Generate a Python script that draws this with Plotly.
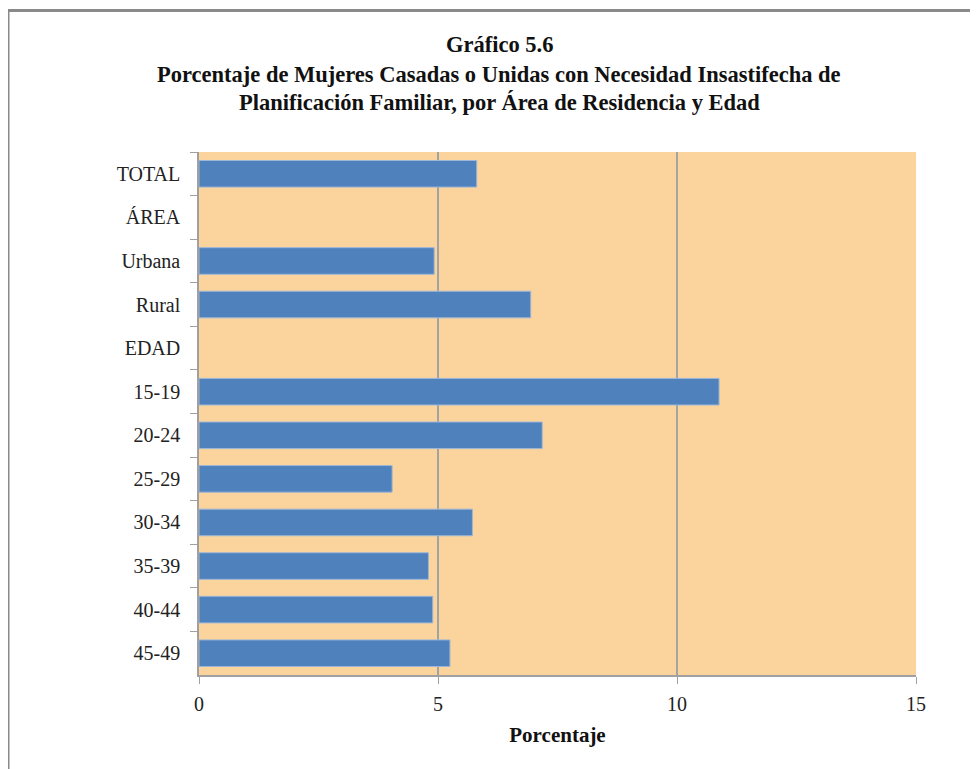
import plotly.graph_objects as go

categories = ["TOTAL", "ÁREA", "Urbana", "Rural", "EDAD", "15-19", "20-24",
              "25-29", "30-34", "35-39", "40-44", "45-49"]
values = [5.81, None, 4.92, 6.94, None, 10.88, 7.18, 4.04, 5.72, 4.80, 4.89, 5.25]
x_ticks = [0, 5, 10, 15]

title_lines = ["Gráfico 5.6",
               "Porcentaje de Mujeres Casadas o Unidas con Necesidad Insastifecha de",
               "Planificación Familiar, por Área de Residencia y Edad"]
x_title = "Porcentaje"

FONT = "Liberation Serif"
OFF = 8  # page body offset

fig = go.Figure()
fig.add_trace(go.Bar(
    y=categories, x=values, orientation="h",
    marker=dict(color="#4F81BD", line=dict(color="#9DB6D8", width=1)),
    showlegend=False,
))

W, H = 978 - OFF, 769 - OFF
L, T = 199 - OFF, 152 - OFF
R = W - (916 - OFF)
B = H - (675 - OFF)
pw, ph = W - L - R, H - T - B

def px_x(px):
    return (px - OFF - L) / pw

def px_y(py):
    return (H - B - (py - OFF)) / ph

fig.update_layout(
    width=W, height=H,
    margin=dict(l=L, r=R, t=T, b=B, autoexpand=False),
    paper_bgcolor="white",
    plot_bgcolor="#FAD49C",
    bargap=0.39,
    font=dict(family=FONT, size=20, color="#222222"),
    xaxis=dict(
        range=[0, 15], tickvals=x_ticks, ticktext=[str(v) for v in x_ticks],
        showgrid=True, gridcolor="#A3A3A3", gridwidth=1.5,
        showline=True, linecolor="#A0A0A0", linewidth=1.5,
        ticks="outside", ticklen=7, tickcolor="#A0A0A0", tickwidth=1,
        ticklabelstandoff=3,
        tickfont=dict(family=FONT, size=20, color="#222222"),
        zeroline=False, fixedrange=True,
        title=dict(text="<b>" + x_title + "</b>", font=dict(family=FONT, size=21, color="#111111"), standoff=14),
    ),
    yaxis=dict(
        type="category", categoryorder="array", categoryarray=categories,
        autorange="reversed",
        showgrid=False, showline=True, linecolor="#A0A0A0", linewidth=1.5,
        ticks="outside", ticklen=7, tickcolor="#A0A0A0", tickwidth=1,
        tickson="boundaries", ticklabelstandoff=13,
        tickfont=dict(family=FONT, size=20, color="#222222"),
        fixedrange=True,
    ),
)

# title lines
for line, py in zip(title_lines, [44, 74, 103]):
    fig.add_annotation(
        text="<b>" + line + "</b>", x=px_x(499), y=px_y(py),
        xref="paper", yref="paper", xanchor="center", yanchor="middle",
        showarrow=False, font=dict(family=FONT, size=22.5, color="#111111"),
    )

# outer frame (top and left edges visible)
fx, fy = px_x(8), px_y(10.5)
fig.add_shape(type="line", xref="paper", yref="paper", x0=fx, y0=fy, x1=px_x(1000), y1=fy,
              line=dict(color="#8A8A8A", width=3))
fig.add_shape(type="line", xref="paper", yref="paper", x0=fx, y0=fy, x1=fx, y1=px_y(790),
              line=dict(color="#8A8A8A", width=3))

fig.write_html("out.html")
